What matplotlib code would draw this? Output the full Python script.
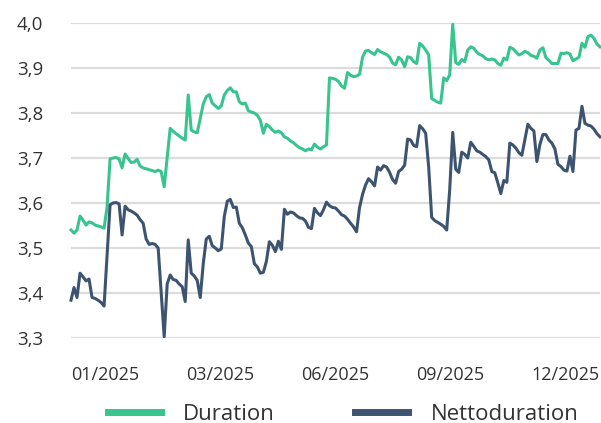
import matplotlib.pyplot as plt

# Werte (ein Punkt je Handelstag-Schritt)
duration = [
    3.540, 3.533, 3.540, 3.571, 3.562, 3.551, 3.558, 3.556, 3.551, 3.549,
    3.547, 3.544, 3.591, 3.698, 3.700, 3.701, 3.698, 3.678, 3.709, 3.699,
    3.690, 3.691, 3.697, 3.682, 3.678, 3.676, 3.674, 3.672, 3.670, 3.673,
    3.670, 3.636, 3.700, 3.766, 3.759, 3.754, 3.749, 3.744, 3.740, 3.840,
    3.762, 3.758, 3.756, 3.788, 3.820, 3.836, 3.841, 3.822, 3.816, 3.810,
    3.816, 3.840, 3.850, 3.856, 3.847, 3.847, 3.825, 3.820, 3.822, 3.805,
    3.802, 3.800, 3.795, 3.784, 3.755, 3.775, 3.770, 3.762, 3.757, 3.760,
    3.756, 3.747, 3.744, 3.738, 3.734, 3.728, 3.723, 3.720, 3.716, 3.720,
    3.718, 3.731, 3.724, 3.720, 3.725, 3.729, 3.878, 3.877, 3.875, 3.870,
    3.860, 3.855, 3.890, 3.884, 3.881, 3.882, 3.886, 3.924, 3.938, 3.939,
    3.934, 3.930, 3.941, 3.936, 3.933, 3.930, 3.924, 3.911, 3.907, 3.924,
    3.918, 3.903, 3.925, 3.923, 3.914, 3.910, 3.955, 3.949, 3.940, 3.929,
    3.832, 3.828, 3.824, 3.822, 3.878, 3.872, 3.885, 3.997, 3.912, 3.908,
    3.919, 3.914, 3.940, 3.947, 3.944, 3.935, 3.930, 3.927, 3.921, 3.918,
    3.920, 3.918, 3.910, 3.906, 3.922, 3.918, 3.946, 3.943, 3.936, 3.929,
    3.932, 3.937, 3.934, 3.928, 3.926, 3.922, 3.940, 3.945, 3.923, 3.917,
    3.910, 3.910, 3.910, 3.933, 3.932, 3.934, 3.931, 3.916, 3.920, 3.924,
    3.955, 3.946, 3.970, 3.973, 3.966, 3.953, 3.947,
]

nettoduration = [
    3.384, 3.412, 3.390, 3.444, 3.436, 3.427, 3.431, 3.390, 3.388, 3.384,
    3.379, 3.371, 3.485, 3.596, 3.600, 3.601, 3.598, 3.529, 3.593, 3.585,
    3.582, 3.578, 3.573, 3.563, 3.555, 3.520, 3.508, 3.510, 3.508, 3.500,
    3.400, 3.303, 3.420, 3.440, 3.430, 3.428, 3.420, 3.414, 3.381, 3.518,
    3.444, 3.438, 3.428, 3.390, 3.465, 3.520, 3.526, 3.505, 3.500, 3.494,
    3.498, 3.570, 3.604, 3.608, 3.590, 3.591, 3.555, 3.545, 3.529, 3.511,
    3.503, 3.465, 3.458, 3.444, 3.446, 3.470, 3.514, 3.506, 3.492, 3.515,
    3.497, 3.586, 3.575, 3.580, 3.578, 3.572, 3.567, 3.566, 3.560, 3.546,
    3.543, 3.588, 3.578, 3.572, 3.585, 3.602, 3.594, 3.590, 3.589, 3.582,
    3.574, 3.571, 3.564, 3.555, 3.547, 3.536, 3.590, 3.619, 3.640, 3.654,
    3.647, 3.638, 3.680, 3.673, 3.683, 3.680, 3.668, 3.652, 3.644, 3.670,
    3.675, 3.684, 3.742, 3.740, 3.728, 3.725, 3.772, 3.765, 3.755, 3.680,
    3.568, 3.561, 3.557, 3.553, 3.548, 3.540, 3.630, 3.757, 3.675, 3.668,
    3.713, 3.708, 3.700, 3.735, 3.726, 3.716, 3.713, 3.708, 3.703, 3.696,
    3.670, 3.667, 3.645, 3.621, 3.650, 3.646, 3.733, 3.729, 3.722, 3.712,
    3.706, 3.740, 3.775, 3.766, 3.760, 3.692, 3.730, 3.752, 3.752, 3.740,
    3.733, 3.720, 3.686, 3.681, 3.673, 3.671, 3.704, 3.670, 3.762, 3.766,
    3.815, 3.777, 3.773, 3.771, 3.764, 3.754, 3.747,
]

tick_pos = [11.5, 49.75, 88, 126.25, 164.5]
tick_labels = ["01/2025", "03/2025", "06/2025", "09/2025", "12/2025"]
y_ticks = [3.3, 3.4, 3.5, 3.6, 3.7, 3.8, 3.9, 4.0]

plt.rcParams['font.family'] = ['Open Sans', 'DejaVu Sans']

fig = plt.figure(figsize=(6.01, 4.23), dpi=100)
ax = fig.add_axes([71 / 601, 1 - 338 / 423, 529 / 601, 315 / 423])

x = list(range(len(duration)))
ax.plot(x, duration, color="#38C48E", lw=2.2, label="Duration", clip_on=False)
ax.plot(x, nettoduration, color="#3D5470", lw=2.2, label="Nettoduration", clip_on=False)

ax.set_xlim(0, len(duration) - 1)
ax.set_ylim(3.3, 4.0)
ax.set_yticks(y_ticks)
ax.set_yticklabels([f"{v:.1f}".replace(".", ",") for v in y_ticks], fontsize=13.5, color="#333333")
ax.set_xticks(tick_pos)
ax.set_xticklabels(tick_labels, fontsize=13, color="#333333")
ax.tick_params(axis="both", length=0)
ax.tick_params(axis="y", pad=20)
ax.tick_params(axis="x", pad=20)

ax.grid(axis="y", color="#DCDCDC", lw=1.6, zorder=0)
ax.set_axisbelow(True)
for s in ax.spines.values():
    s.set_visible(False)

leg = fig.legend(loc="center", bbox_to_anchor=(343 / 601, 1 - 414 / 423), ncol=2,
                 frameon=False, fontsize=16, handlelength=2.4, handletextpad=1.0,
                 columnspacing=3.6)
for line in leg.get_lines():
    line.set_linewidth(5)
for t in leg.get_texts():
    t.set_color("#333333")

fig.savefig("out.png", dpi=100)
